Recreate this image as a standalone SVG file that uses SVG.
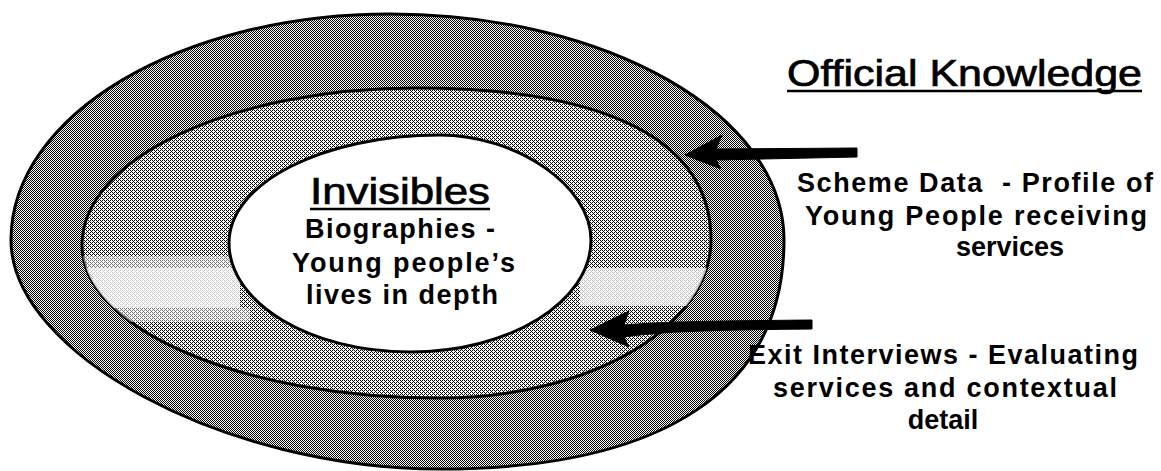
<svg xmlns="http://www.w3.org/2000/svg" width="1161" height="471" viewBox="0 0 1161 471">
  <style>
    .ring { stroke: #000; stroke-width: 3; }
    .title { font-family: "Liberation Sans", Arial, sans-serif; font-size: 36px; fill: #000; stroke: #000; stroke-width: 0.7; }
    .body { font-family: "Liberation Sans", Arial, sans-serif; font-weight: bold; font-size: 27px; fill: #000; }
    .ul { stroke: #000; stroke-width: 2.5; }
    .arrow { fill: #000; stroke: #000; stroke-width: 1; stroke-linejoin: round; }
  </style>
  <defs>
    <pattern id="pOuter" patternUnits="userSpaceOnUse" width="2" height="2">
      <rect width="2" height="2" fill="#fff"/>
      <rect x="0" y="0" width="1" height="1" fill="#000"/>
      <rect x="1" y="1" width="1" height="1" fill="#000"/>
    </pattern>
    <pattern id="pMid" patternUnits="userSpaceOnUse" width="4" height="4">
      <rect width="4" height="4" fill="#fff"/>
      <rect x="0" y="0" width="1" height="1" fill="#000"/>
      <rect x="2" y="0" width="1" height="1" fill="#000"/>
      <rect x="1" y="1" width="1" height="1" fill="#000"/>
      <rect x="0" y="2" width="1" height="1" fill="#000"/>
      <rect x="2" y="2" width="1" height="1" fill="#000"/>
      <rect x="3" y="3" width="1" height="1" fill="#000"/>
    </pattern>
    <clipPath id="midClip">
      <path d="M417,88 C608,88 711,141 711,240 C711,327 590,398 440,398 C242,398 82,329 82,245 C82,158 232,88 417,88 Z"/>
    </clipPath>
  </defs>
  <rect width="1161" height="471" fill="#fff"/>

  <g id="outer-ring">
    <path class="ring" fill="url(#pOuter)" d="M390,14 C607,14 784,115 784,240 C784,389 664,469 440,469 C225,469 11,354 11,240 C11,115 181,14 390,14 Z"/>
  </g>
  <g id="middle-ring">
    <path class="ring" fill="url(#pMid)" d="M417,88 C608,88 711,141 711,240 C711,327 590,398 440,398 C242,398 82,329 82,245 C82,158 232,88 417,88 Z"/>
    <g clip-path="url(#midClip)">
      <rect x="80" y="256" width="160" height="12" fill="#fff" opacity="0.45"/>
      <rect x="80" y="268" width="160" height="40" fill="#fff" opacity="0.8"/>
      <rect x="110" y="308" width="140" height="14" fill="#fff" opacity="0.45"/>
      <rect x="580" y="268" width="140" height="38" fill="#fff" opacity="0.75"/>
    </g>
  </g>
  <g id="invisibles">
    <path class="ring" fill="#fff" d="M440,135 C515,135 591,185 591,240 C591,302 510,352 410,352 C310,352 229,303 229,243 C229,183 323,135 440,135 Z"/>
    <text class="title" x="310" y="204" textLength="180" lengthAdjust="spacingAndGlyphs">Invisibles</text>
    <line class="ul" x1="310" y1="209" x2="490" y2="209"/>
    <text class="body" x="305" y="238" textLength="190" lengthAdjust="spacing">Biographies -</text>
    <text class="body" x="292" y="272" textLength="223" lengthAdjust="spacing">Young people’s</text>
    <text class="body" x="306" y="304" textLength="192" lengthAdjust="spacing">lives in depth</text>
  </g>
  <g id="official-knowledge">
    <text class="title" x="787" y="86" textLength="355" lengthAdjust="spacingAndGlyphs">Official Knowledge</text>
    <line class="ul" x1="787" y1="91" x2="1142" y2="91"/>
  </g>
  <g id="scheme-data">
    <text class="body" x="797" y="192" textLength="356" lengthAdjust="spacing" xml:space="preserve">Scheme Data  - Profile of</text>
    <text class="body" x="805" y="225" textLength="342" lengthAdjust="spacing">Young People receiving</text>
    <text class="body" x="1010" y="256" text-anchor="middle">services</text>
  </g>
  <g id="exit-interviews">
    <text class="body" x="748" y="364" textLength="390" lengthAdjust="spacing">Exit Interviews - Evaluating</text>
    <text class="body" x="773" y="397" textLength="344" lengthAdjust="spacing">services and contextual</text>
    <text class="body" x="943" y="429" text-anchor="middle">detail</text>
  </g>
  <g id="connectors">
    <polygon class="arrow" points="685,155 722,135 716,149 857,148 857,157 716,160 721,169"/>
    <path class="arrow" d="M590,330 L629,311 L624,325 C660,322 700,321 812,320 L812,329 C700,330 660,332 624,337 L629,347 Z"/>
  </g>
</svg>
